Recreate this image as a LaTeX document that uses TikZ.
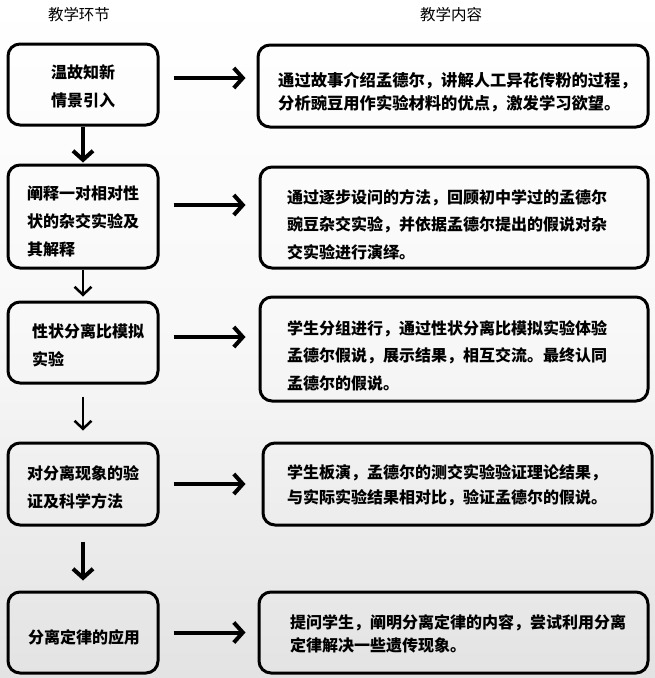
\documentclass[tikz,border=0pt]{standalone}
\usepackage{fontspec}
\newfontfamily\cjk{Noto Sans CJK SC}
\usetikzlibrary{arrows.meta,calc}
\begin{document}
\begin{tikzpicture}[x=1pt,y=-1pt,
  box/.style={draw=black, line width=3pt, rounded corners=12pt, inner sep=0pt},
  txt/.style={font=\cjk\bfseries\fontsize{16}{28}\selectfont, inner sep=0pt, align=left},
  hdr/.style={font=\cjk\fontsize{15.5}{18}\selectfont, inner sep=0pt},
  harr/.style={line width=4pt, -{Straight Barb[length=9pt,width=20pt]}},
  varrthick/.style={line width=4pt, -{Straight Barb[length=9pt,width=20pt]}},
  varrthin/.style={line width=2.5pt, -{Straight Barb[length=8pt,width=17pt]}}
]
\useasboundingbox (0,0) rectangle (655,678);
\fill[top color=white, bottom color=gray!22, middle color=gray!6] (0,0) rectangle (655,678);

\node[hdr] (h1) at (79,15) {教学环节};
\node[hdr] (h2) at (451,15) {教学内容};

% left boxes
\node[box, minimum width=150pt, minimum height=81pt] (b1) at (83,84.5) {};
\node[box, minimum width=150pt, minimum height=103pt] (b2) at (83,216.5) {};
\node[box, minimum width=150pt, minimum height=81pt] (b3) at (83,342.5) {};
\node[box, minimum width=150pt, minimum height=82pt] (b4) at (83,484) {};
\node[box, minimum width=150pt, minimum height=81pt] (b5) at (83,632.5) {};

% right boxes
\node[box, minimum width=390pt, minimum height=82pt] (r1) at (453,86) {};
\node[box, minimum width=388pt, minimum height=101pt] (r2) at (454,217.5) {};
\node[box, minimum width=388pt, minimum height=104pt] (r3) at (454,349) {};
\node[box, minimum width=389pt, minimum height=82pt] (r4) at (457.5,484) {};
\node[box, minimum width=389pt, minimum height=81pt] (r5) at (453.5,632.5) {};

% left texts
\node[txt, align=center] (t1) at (83,86) {温故知新\\情景引入};
\node[txt, anchor=west] (t2) at (27,221.5) {阐释一对相对性\\状的杂交实验及\\其解释};
\node[txt, anchor=west] (t3) at (32,345.5) {性状分离比模拟\\实验};
\node[txt, anchor=west] (t4) at (27,487.5) {对分离现象的验\\证及科学方法};
\node[txt] (t5) at (84,637) {分离定律的应用};

% right texts
\node[txt, anchor=west, font=\cjk\bfseries\fontsize{16.3}{23}\selectfont] (s1) at (278,92.5) {通过故事介绍孟德尔，讲解人工异花传粉的过程，\\分析豌豆用作实验材料的优点，激发学习欲望。};
\node[txt, anchor=west, font=\cjk\bfseries\fontsize{16}{27.5}\selectfont] (s2) at (287,224.5) {通过逐步设问的方法，回顾初中学过的孟德尔\\豌豆杂交实验，并依据孟德尔提出的假说对杂\\交实验进行演绎。};
\node[txt, anchor=west, font=\cjk\bfseries\fontsize{16}{27.5}\selectfont] (s3) at (287,355.5) {学生分组进行，通过性状分离比模拟实验体验\\孟德尔假说，展示结果，相互交流。最终认同\\孟德尔的假说。};
\node[txt, anchor=west, font=\cjk\bfseries\fontsize{16}{25}\selectfont] (s4) at (287,485.5) {学生板演，孟德尔的测交实验验证理论结果，\\与实际实验结果相对比，验证孟德尔的假说。};
\node[txt, anchor=west, font=\cjk\bfseries\fontsize{16}{23}\selectfont] (s5) at (290,633.5) {提问学生，阐明分离定律的内容，尝试利用分离\\定律解决一些遗传现象。};

% horizontal arrows
\draw[harr] ($(b1.east)+(14,-6.5)$) -- ($(b1.east -| r1.west)+(-11,-6.5)$);
\draw[harr] ($(b2.east)+(14,-11.5)$) -- ($(b2.east -| r2.west)+(-13,-11.5)$);
\draw[harr] ($(b3.east)+(14,-5.5)$) -- ($(b3.east -| r3.west)+(-13,-5.5)$);
\draw[harr] ($(b4.east)+(14,0)$) -- ($(b4.east -| r4.west)+(-16,0)$);
\draw[harr] ($(b5.east)+(14,0)$) -- ($(b5.east -| r5.west)+(-12,0)$);

% vertical arrows
\draw[varrthick] (b1.south) -- ($(b2.north)+(0,-1)$);
\draw[varrthin] (b2.south) -- ($(b3.north)+(0,-4)$);
\draw[varrthin] ($(b3.south)+(0,12)$) -- ($(b4.north)+(0,-11)$);
\draw[varrthick] ($(b4.south)+(0,15)$) -- ($(b5.north)+(0,-10)$);
\end{tikzpicture}
\end{document}
